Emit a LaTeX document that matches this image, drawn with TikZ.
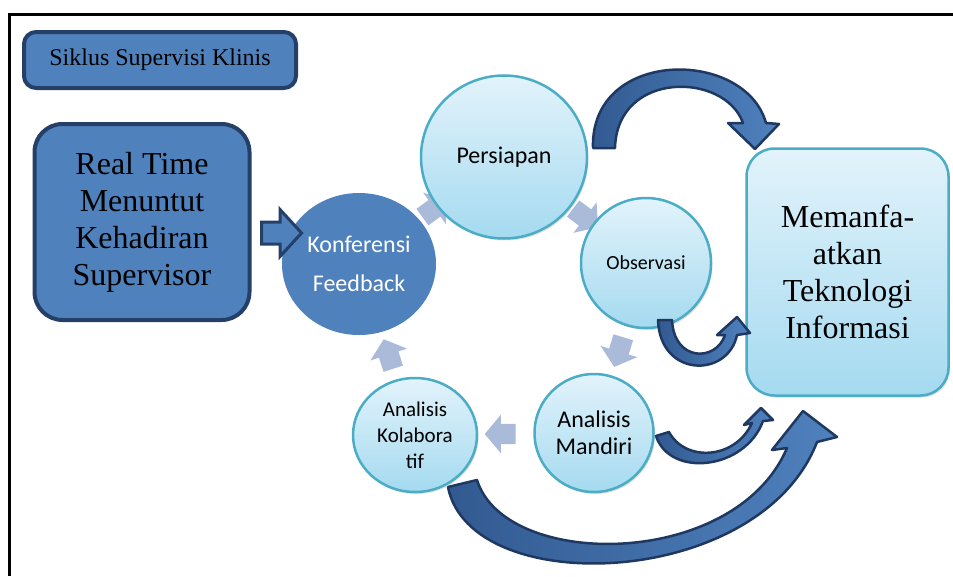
\documentclass[tikz,border=0pt]{standalone}
\usepackage{fontspec}
\setmainfont{Liberation Serif}
\newfontfamily\calibri{Carlito}
\usetikzlibrary{shapes.geometric,shapes.arrows,shadows,calc,backgrounds}

\definecolor{midblue}{RGB}{79,129,189}
\definecolor{darkblue}{RGB}{36,64,104}
\definecolor{navyline}{RGB}{31,56,97}
\definecolor{shadeblue}{RGB}{50,90,145}
\definecolor{topcyan}{RGB}{226,243,251}
\definecolor{botcyan}{RGB}{165,218,240}
\definecolor{tealline}{RGB}{75,172,198}
\definecolor{cycgray}{RGB}{170,187,218}

\tikzset{
  bluebox/.style={draw=darkblue, line width=4pt, fill=midblue, rounded corners=#1, align=center},
  lightshape/.style={draw=tealline, line width=2.5pt, top color=topcyan, bottom color=botcyan,
    drop shadow={opacity=0.25, shadow xshift=1.5pt, shadow yshift=-2pt}},
  phase/.style={lightshape, ellipse, inner sep=0pt, align=center},
  cycarrow/.style={single arrow, fill=cycgray, inner xsep=0pt, inner ysep=10pt, minimum height=31pt,
    single arrow head extend=9pt, single arrow tip angle=100},
  bendarrow/.style={draw=navyline, line width=2.5pt, line join=round, left color=shadeblue, right color=midblue},
}

\begin{document}
\begin{tikzpicture}[x=1pt,y=-1pt]
	\useasboundingbox (0,0) rectangle (953,576);
	\draw [line width=3pt] (953,14) -- (9,14) -- (9,576);

	% boxes and phases
	\node (title) at (160,60) [bluebox=12pt, minimum width=272pt, minimum height=56pt,
		font=\fontsize{24}{28}\selectfont] {Siklus Supervisi Klinis};
	\node (realtime) at (142,222) [bluebox=28pt, minimum width=215pt, minimum height=196pt,
		font=\fontsize{32}{37}\selectfont] {Real Time\\Menuntut\\Kehadiran\\Supervisor};
	\node (konf) at (359,264) [ellipse, fill=midblue, minimum width=154pt, minimum height=142pt,
		inner sep=0pt, align=center, text=white, font=\calibri\fontsize{24}{39}\selectfont] {Konferensi\\Feedback};
	\node (pers) at (504,157) [phase, minimum width=166pt, minimum height=163pt,
		font=\calibri\fontsize{24}{28}\selectfont] {Persiapan};
	\node (obs) at (646,263) [phase, minimum width=130pt, minimum height=130pt,
		font=\calibri\fontsize{20}{24}\selectfont] {Observasi};
	\node (mandiri) at (594,433) [phase, minimum width=119pt, minimum height=118pt,
		font=\calibri\fontsize{24}{27}\selectfont] {Analisis\\Mandiri};
	\node (kolab) at (415,435) [phase, minimum width=124pt, minimum height=114pt,
		font=\calibri\fontsize{21}{26}\selectfont] {Analisis\\Kolabora\\tif};
	\node (teknologi) at (847.5,272) [lightshape, rounded corners=28pt, minimum width=202pt,
		minimum height=247pt, align=center, font=\fontsize{32}{37}\selectfont] {Memanfa-\\atkan\\Teknologi\\Informasi};

	\node (push) at (276.5,233) [single arrow, fill=midblue, draw=darkblue, line width=3pt, inner xsep=0pt,
		inner ysep=9.5pt, minimum height=40pt, single arrow head extend=12.5pt, single arrow tip angle=95] {};

	% cycle arrows behind the phases
	\begin{scope}[on background layer]
		\node (c1) at ($(konf)!0.5!(pers)$)    [cycarrow, rotate=36]   {};
		\node (c2) at ($(pers)!0.55!(obs)$)    [cycarrow, rotate=-37]  {};
		\node (c3) at ($(obs)!0.5!(mandiri)$)  [cycarrow, rotate=-107] {};
		\node (c4) at ($(mandiri)!0.5!(kolab)$) [cycarrow, rotate=180] {};
		\node (c5) at ($(kolab)!0.45!(konf)$)  [cycarrow, rotate=108]  {};
	\end{scope}

	% curved arrows into the right box
	\draw [bendarrow] (593,148) .. controls (590,48) and (745,48) .. (766,123)
		-- (779,124) -- (755,149) -- (728,123) -- (743,123)
		.. controls (725,72) and (617,70) .. (615,148) -- cycle;
	\draw [bendarrow] (658,320) .. controls (660,378) and (728,378) .. (737,335)
		-- (750,333) -- (737,317) -- (717,335) -- (725,335)
		.. controls (716,362) and (674,362) .. (672,320) -- cycle;
	\draw [bendarrow] (656,436) .. controls (670,478) and (745,470) .. (763,421)
		-- (773,420) -- (761,408) -- (744,425) -- (752,423)
		.. controls (735,460) and (685,462) .. (669,432) -- cycle;
	\draw [bendarrow] (448,487) .. controls (470,600) and (760,590) .. (817,442)
		-- (837,437) -- (803,411) -- (772,450) -- (787,448)
		.. controls (735,570) and (505,570) .. (477,480) -- cycle;
\end{tikzpicture}
\end{document}
